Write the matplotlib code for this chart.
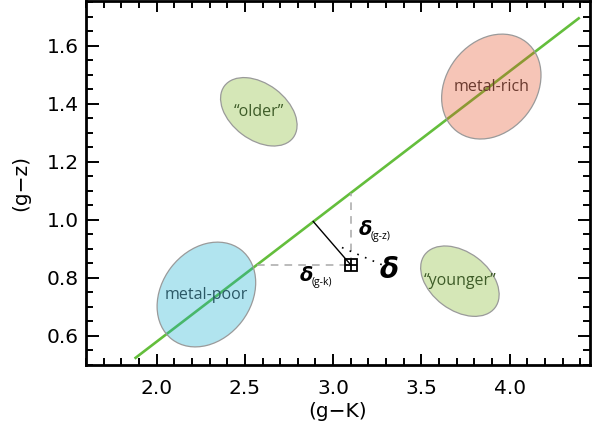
import matplotlib
matplotlib.use("Agg")
import matplotlib.pyplot as plt
from matplotlib.patches import Ellipse
from matplotlib.transforms import ScaledTranslation
from matplotlib.ticker import MultipleLocator

# ---- data ----
line_x = [1.875, 4.397]
line_y = [0.522, 1.698]

point_x = [3.10]
point_y = [0.845]

foot_x = [2.887]            # foot of perpendicular on the line
foot_y = [0.995]
hdash_x = [2.568, 3.10]     # delta (g-k)
hdash_y = [0.845, 0.845]
vdash_x = [3.10, 3.10]      # delta (g-z)
vdash_y = [0.845, 1.093]
dot_x = [3.05, 3.275]
dot_y = [0.905, 0.846]

region_names = ['metal-poor', 'metal-rich', '\u201colder\u201d', '\u201cyounger\u201d']
region_x = [2.282, 3.896, 2.579, 3.718]
region_y = [0.743, 1.460, 1.373, 0.789]

x_ticks = [2.0, 2.5, 3.0, 3.5, 4.0]
y_ticks = [0.6, 0.8, 1.0, 1.2, 1.4, 1.6]

# ---- styles ----
reg_w = [1.13, 1.13, 0.86, 0.88]
reg_h = [0.89, 0.90, 0.56, 0.58]
reg_ang = [52.5, 52.0, -37.0, -37.0]
reg_fc = [(14/255, 171/255, 208/255, 0.32),
          (227/255, 77/255, 33/255, 0.32),
          (127/255, 183/255, 33/255, 0.32),
          (127/255, 183/255, 33/255, 0.32)]
reg_tc = ['#2b5866', '#6a3a2e', '#3e5c28', '#3e5c28']

fig = plt.figure(figsize=(6.09, 4.32), dpi=100)
ax = fig.add_axes([86/609, 67/432, 504/609, 364/432])

ax.set_xlim(1.6, 4.455)
ax.set_ylim(0.5, 1.755)

ax.plot(line_x, line_y, color='#64be3c', lw=1.9, solid_capstyle='butt', zorder=2)

for name, cx, cy, w, h, a, fc, tc in zip(region_names, region_x, region_y,
                                         reg_w, reg_h, reg_ang, reg_fc, reg_tc):
    tr = fig.dpi_scale_trans + ScaledTranslation(cx, cy, ax.transData)
    e = Ellipse((0, 0), w, h, angle=a, transform=tr, facecolor=fc,
                edgecolor='#9a9a9a', lw=0.9, zorder=3)
    ax.add_patch(e)
    ax.text(cx, cy, name, ha='center', va='center', fontsize=11.5,
            family='Open Sans', color=tc, zorder=4)

ax.plot(hdash_x, hdash_y, color='#a8a8a8', lw=1.1, ls=(0, (5, 4)), zorder=2)
ax.plot(vdash_x, vdash_y, color='#a8a8a8', lw=1.1, ls=(0, (5, 4)), zorder=2)
ax.plot([foot_x[0], point_x[0]], [foot_y[0], point_y[0]], color='black', lw=1.0, zorder=5)
ax.plot(dot_x, dot_y, color='black', lw=1.2, ls=(0, (1, 4)), zorder=5)

ax.plot(point_x, point_y, marker='s', ms=8, mfc='none', mec='black', mew=1.3,
        ls='none', zorder=6)
ax.plot(point_x, point_y, marker='+', ms=8, mec='black', mew=1.3, ls='none', zorder=6)

# delta labels
ax.text(3.185, 0.967, '\u03b4', fontsize=14, fontweight='bold', style='italic',
        ha='center', va='center', zorder=6)
ax.text(3.21, 0.944, '(g-z)', fontsize=7.5, ha='left', va='center',
        family='Open Sans', zorder=6)
ax.text(2.851, 0.808, '\u03b4', fontsize=14, fontweight='bold', style='italic',
        ha='center', va='center', zorder=6)
ax.text(2.877, 0.786, '(g-k)', fontsize=7.5, ha='left', va='center',
        family='Open Sans', zorder=6)
ax.text(3.315, 0.829, '\u03b4', fontsize=20, style='italic', fontweight='semibold',
        ha='center', va='center', zorder=6)

# axes styling
for s in ax.spines.values():
    s.set_linewidth(2.0)
ax.set_xticks(x_ticks)
ax.set_yticks(y_ticks)
ax.set_xticklabels([f'{v:.1f}' for v in x_ticks])
ax.set_yticklabels([f'{v:.1f}' for v in y_ticks])
ax.xaxis.set_minor_locator(MultipleLocator(0.1))
ax.yaxis.set_minor_locator(MultipleLocator(0.05))
ax.tick_params(which='both', direction='in', top=True, right=True, width=1.4,
               labelsize=14.5)
ax.tick_params(axis='x', which='major', length=8, pad=10)
ax.tick_params(axis='y', which='major', length=9, pad=5)
ax.tick_params(which='minor', length=5)

ax.set_xlabel('(g\u2212K)', fontsize=14.5, labelpad=3)
ax.set_ylabel('(g\u2212z)', fontsize=14.5, labelpad=12)

fig.savefig('out.png', dpi=100)
